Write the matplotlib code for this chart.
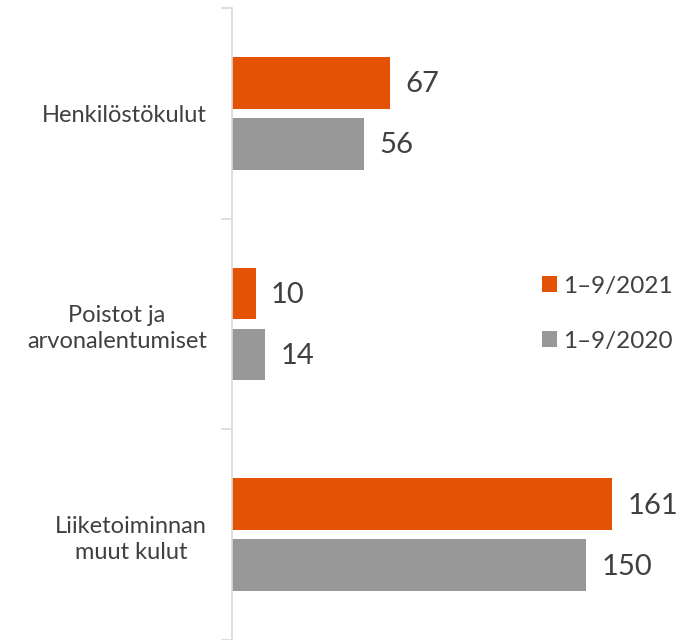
import matplotlib.pyplot as plt
import numpy as np

# kulut, milj. euroa
categories = ["Henkilöstökulut", "Poistot ja\narvonalentumiset", "Liiketoiminnan\nmuut kulut"]
vals_2021 = [67, 10, 161]
vals_2020 = [56, 14, 150]
series_names = ["1–9/2021", "1–9/2020"]

orange = "#e35205"
grey = "#989898"
txt = "#404040"

plt.rcParams['font.family'] = ['Lato', 'DejaVu Sans']

fig = plt.figure(figsize=(6.85, 6.40), dpi=100)
ax = fig.add_axes([232 / 685, 0, 453 / 685, 632 / 640])

y = np.arange(len(categories))
h = 0.246
off = 0.145
b1 = ax.barh(y - off, vals_2021, height=h, color=orange, label=series_names[0])
b2 = ax.barh(y + off, vals_2020, height=h, color=grey, label=series_names[1])

for bars, vals in ((b1, vals_2021), (b2, vals_2020)):
    for bar, v in zip(bars, vals):
        ax.annotate(str(v), (bar.get_width(), bar.get_y() + bar.get_height() / 2),
                    xytext=(11, -1), textcoords="offset points", va="center",
                    fontsize=21, color=txt)

ax.set_xlim(0, 192)
ax.set_ylim(2.5, -0.5)

ax.set_yticks(y)
ax.set_yticklabels(categories, fontsize=17, color=txt, linespacing=1.3,
                   multialignment="center")
ax.tick_params(axis="y", which="major", length=0, pad=18)
ax.set_yticks([-0.5, 0.5, 1.5, 2.5], minor=True)
ax.tick_params(axis="y", which="minor", length=8, color="#d9d9d9", width=1.2)
ax.set_xticks([])

for s in ("top", "right", "bottom"):
    ax.spines[s].set_visible(False)
ax.spines["left"].set_color("#d9d9d9")
ax.spines["left"].set_linewidth(1.2)

leg = ax.legend(loc="upper left", bbox_to_anchor=(288 / 453, 386 / 632), frameon=False,
                fontsize=17.5, handlelength=0.62, handleheight=0.62, handletextpad=0.25,
                labelspacing=1.4, labelcolor=txt)

fig.savefig("out.png", dpi=100)
